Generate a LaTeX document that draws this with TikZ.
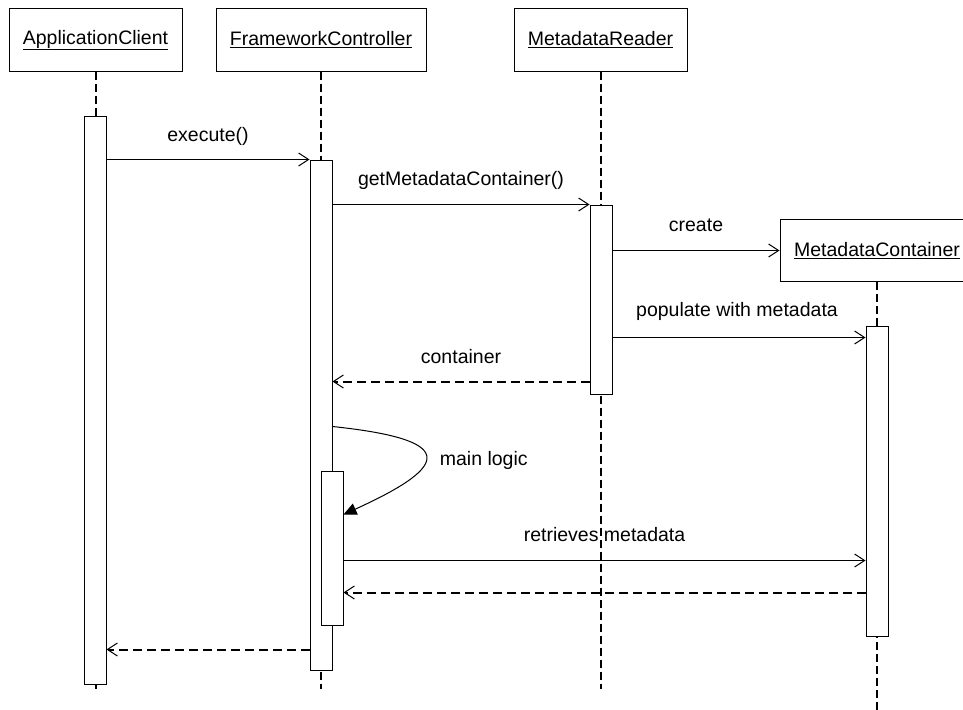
\documentclass[tikz,border=0pt]{standalone}
\usepackage{fontspec}
\setmainfont{Liberation Sans}
\usetikzlibrary{arrows.meta, positioning}

\begin{document}
\begin{tikzpicture}[x=1pt, y=-1pt,
  obj/.style={rectangle, draw, line width=1pt, minimum height=62pt, inner sep=0pt, font=\fontsize{19.5}{23}\selectfont},
  act/.style={rectangle, draw, fill=white, line width=1pt, minimum width=22pt, inner sep=0pt},
  life/.style={line width=2pt, dash pattern=on 8pt off 4pt},
  msg/.style={line width=1pt, -{Straight Barb[length=10pt, width=13pt, line width=1pt]}},
  ret/.style={msg, line width=2pt, dash pattern=on 9pt off 5pt},
  lbl/.style={font=\fontsize{19.5}{23}\selectfont, inner sep=0pt, anchor=base, yshift=#1},
  lbl/.default=19pt]
  \useasboundingbox (0,0) rectangle (963,709);
  \clip (0,0) rectangle (963,709);

  % objects
  \node[obj, minimum width=173pt] (ac) at (95.5,40) {\underline{ApplicationClient}};
  \node[obj, minimum width=210pt] (fc) at (321,40) {\underline{FrameworkController}};
  \node[obj, minimum width=173pt] (mr) at (600.5,40) {\underline{MetadataReader}};
  \node[obj, minimum width=194pt] (mc) at (877,250.5) {\underline{MetadataContainer}};

  % lifelines
  \draw[life] (ac.south) -- (ac.south |- 0,689);
  \draw[life] (fc.south) -- (fc.south |- 0,689);
  \draw[life] (mr.south) -- (mr.south |- 0,689);
  \draw[life] (mc.south) -- (mc.south |- 0,715);

  % activations
  \node[act, minimum height=568pt] (actA) at (95,400) {};
  \node[act, minimum height=510pt] (actF) at (321,415) {};
  \node[act, minimum height=154pt] (actN) at (332,548) {};
  \node[act, minimum height=189pt] (actR) at (601,299.5) {};
  \node[act, minimum height=310pt] (actC) at (877,481) {};

  % messages
  \draw[msg] (actA.east |- actF.north) -- node[lbl=18pt] {execute()} (actF.north west);
  \draw[msg] (actF.east |- actR.north) -- node[lbl] {getMetadataContainer()} (actR.north west);
  \draw[msg] (actR.east |- mc.west) -- node[lbl] {create} (mc.west);
  \coordinate (pop) at ([yshift=-12pt]actC.north west);
  \draw[msg] (actR.east |- pop) -- node[lbl=21pt, xshift=-2pt] {populate with metadata} (pop);
  \coordinate (cret) at ([yshift=13pt]actR.south west);
  \draw[ret] (cret) -- node[lbl=18pt] {container} (actF.east |- cret);

  \draw[line width=1pt, -{Triangle[length=13pt, width=12pt]}] ([yshift=-267pt]actF.north east)
    .. controls +(123,13) and +(110,-50) .. node[lbl=-9pt, anchor=base west, xshift=14pt, pos=0.5] {main logic} ([yshift=-44pt]actN.north east);

  \coordinate (get) at ([yshift=-90pt]actN.north east);
  \draw[msg] (get) -- node[lbl] {retrieves metadata} (actC.west |- get);
  \coordinate (gret) at ([yshift=44pt]actC.south west);
  \draw[ret] (gret) -- (actN.east |- gret);
  \coordinate (eret) at ([yshift=21pt]actF.south west);
  \draw[ret] (eret) -- (actA.east |- eret);
\end{tikzpicture}
\end{document}
